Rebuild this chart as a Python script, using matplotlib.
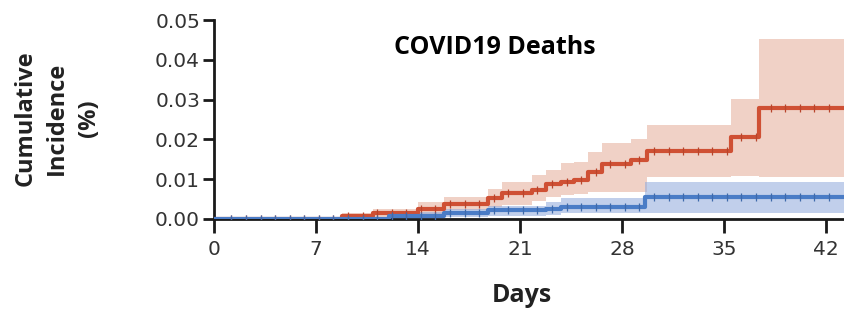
import matplotlib.pyplot as plt

# Kaplan-Meier style cumulative incidence (%)
red_days = [0, 8.8, 10.9, 14.0, 15.8, 18.8, 19.8, 21.8, 22.8, 23.8, 24.7,
            25.7, 26.6, 28.6, 29.7, 35.5, 37.4, 43.3]
red_est = [0, 0.0008, 0.0016, 0.0026, 0.0038, 0.0052, 0.0065, 0.0074, 0.0088,
           0.0093, 0.0097, 0.0119, 0.0138, 0.0147, 0.0170, 0.0206, 0.0280, 0.0280]
red_lo = [0, 0.0002, 0.0006, 0.0012, 0.0022, 0.0030, 0.0036, 0.0045, 0.0055,
          0.0060, 0.0063, 0.0068, 0.0068, 0.0068, 0.0106, 0.0108, 0.0106, 0.0106]
red_hi = [0, 0.0015, 0.0025, 0.0043, 0.0055, 0.0075, 0.0093, 0.0110, 0.0123,
          0.0140, 0.0142, 0.0168, 0.0190, 0.0202, 0.0236, 0.0302, 0.0453, 0.0453]

blue_days = [0, 12.0, 15.8, 18.8, 22.8, 23.8, 29.6, 43.3]
blue_est = [0, 0.0008, 0.0015, 0.0022, 0.0026, 0.0030, 0.0055, 0.0055]
blue_lo = [0, 0.0001, 0.0004, 0.0008, 0.0010, 0.0014, 0.0015, 0.0015]
blue_hi = [0, 0.0018, 0.0026, 0.0032, 0.0042, 0.0053, 0.0093, 0.0093]

# censoring marks
censor_days = [1.2, 2.2, 3.2, 4.2, 5.2, 6.2, 7.2, 8.2, 9.2, 10.2, 11.2, 12.2,
               13.2, 14.2, 15.2, 16.2, 17.2, 18.2, 19.2, 20.2, 21.2, 22.2,
               23.2, 24.2, 25.2, 26.2, 27.2, 28.2, 29.2, 30.2, 31.2, 32.2,
               33.2, 34.2, 35.2, 36.2, 37.2, 38.2, 39.2, 40.2, 41.2, 42.2]

x_ticks = [0, 7, 14, 21, 28, 35, 42]
y_ticks = [0.00, 0.01, 0.02, 0.03, 0.04, 0.05]

RED = "#cf5034"
RED_BAND = "#e3a58f"
BLUE = "#4a7cc6"
BLUE_BAND = "#8fa9dc"


def value_at(days, vals, t):
    v = vals[0]
    for d, val in zip(days, vals):
        if d <= t:
            v = val
    return v


fig = plt.figure(figsize=(8.44, 3.13), dpi=100)
ax = fig.add_axes([214 / 844, 1 - 219 / 313, 1 - 214 / 844, 199 / 313])

ax.fill_between(red_days, red_lo, red_hi, step="post", color=RED_BAND,
                alpha=0.5, linewidth=0)
ax.fill_between(blue_days, blue_lo, blue_hi, step="post", color=BLUE_BAND,
                alpha=0.55, linewidth=0)
ax.step(red_days, red_est, where="post", color=RED, linewidth=3, zorder=3)
ax.step(blue_days, blue_est, where="post", color=BLUE, linewidth=3, zorder=4)

red_marks = [value_at(red_days, red_est, t) for t in censor_days]
blue_marks = [value_at(blue_days, blue_est, t) for t in censor_days]
ax.plot(censor_days, red_marks, linestyle="none", marker="|", markersize=6,
        markeredgewidth=0.9, color="#b8452c", zorder=5)
ax.plot(censor_days, blue_marks, linestyle="none", marker="|", markersize=6,
        markeredgewidth=0.9, color="#3f6aab", zorder=6)

ax.set_xlim(0, 43.24)
ax.set_ylim(0, 0.05)
ax.set_xticks(x_ticks)
ax.set_yticks(y_ticks)
ax.set_yticklabels([f"{v:.2f}" for v in y_ticks])

for side in ("top", "right"):
    ax.spines[side].set_visible(False)
for side in ("left", "bottom"):
    ax.spines[side].set_linewidth(2)
    ax.spines[side].set_color("#1a1a1a")
ax.spines["bottom"].set_zorder(1)

ax.tick_params(axis="y", length=8, width=2, color="#1a1a1a", pad=2,
               labelsize=14.5, labelcolor="#333333")
ax.tick_params(axis="x", length=10, width=2, color="#1a1a1a", pad=5,
               labelsize=14.5, labelcolor="#333333")

ax.text(0.445, 0.86, "COVID19 Deaths", transform=ax.transAxes, ha="center",
        va="center", fontsize=18, fontweight="bold", family="Open Sans")

fig.text(522 / 844, 1 - 296 / 313, "Days", ha="center", va="center",
         fontsize=18, fontweight="bold", family="Open Sans", color="#222222")
fig.text(57 / 844, 1 - 118 / 313, "Cumulative\nIncidence\n(%)", ha="center",
         va="center", rotation=90, fontsize=17, fontweight="bold",
         family="Open Sans", color="#222222", linespacing=1.42)

fig.savefig("out.png", dpi=100)
